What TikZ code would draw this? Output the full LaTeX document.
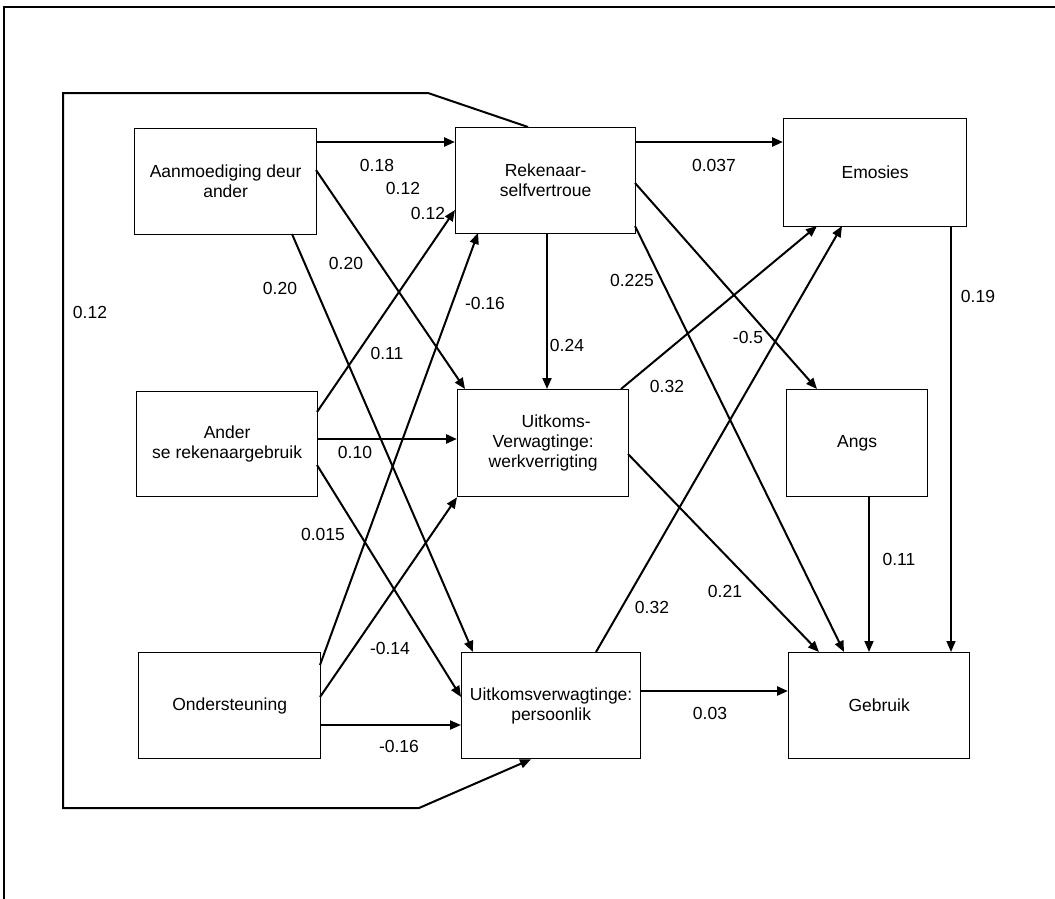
\documentclass[tikz,border=0pt]{standalone}
\usepackage{fontspec}
\setmainfont{Liberation Sans}
\usetikzlibrary{arrows.meta,calc}
\begin{document}
\begin{tikzpicture}[x=1pt,y=-1pt,
  box/.style 2 args={draw,line width=1.3pt,minimum width=#1,minimum height=#2,
    inner sep=0pt,align=center,anchor=north west,font=\fontsize{17.5}{20}\selectfont},
  conn/.style={draw,line width=2pt,-{Triangle[length=11pt,width=9pt]}},
  bold/.style={conn,line width=2.6pt},
  lab/.style={inner sep=0pt,font=\fontsize{17.5}{20}\selectfont}]
\useasboundingbox (0,0) rectangle (1055,899);
\fill[white] (0,0) rectangle (1055,899);

% page frame
\draw[line width=1.4pt] (4,899) -- (4,7) -- (1055,7);

% variables
\node[box={182pt}{106pt}] (aanm)  at (134,128) {Aanmoediging deur\\ander};
\node[box={180pt}{106pt}] (rek)   at (455,127) {Rekenaar-\\selfvertroue};
\node[box={183pt}{108pt}] (emos)  at (783,118) {Emosies};
\node[box={181pt}{105pt}] (ander) at (136,391) {Ander\\se rekenaargebruik};
\node[box={171pt}{107pt}] (uw)    at (457,389) {\hspace*{26pt}Uitkoms-\\Verwagtinge:\\werkverrigting};
\node[box={141pt}{107pt}] (angs)  at (786,389) {Angs};
\node[box={182pt}{106pt}] (ond)   at (138,652) {Ondersteuning};
\node[box={179pt}{106pt}] (up)    at (461,652) {Uitkomsverwagtinge:\\persoonlik};
\node[box={181pt}{106pt}] (geb)   at (788,652) {Gebruik};

% paths
\draw[bold] ($(aanm.north west)+(182,14)$) -- ($(rek.north west)+(0,15)$);
\draw[bold] ($(rek.north west)+(180,15)$) -- ($(emos.north west)+(0,24)$);
\draw[conn] ($(aanm.north west)+(182,42)$) -- ($(uw.north west)+(8,0)$);
\draw[conn] ($(aanm.north west)+(158,106)$) -- ($(up.north west)+(12,0)$);
\draw[conn] ($(ander.north west)+(181,21)$) -- ($(rek.north west)+(0,83)$);
\draw[bold] ($(ander.north west)+(181,48)$) -- ($(uw.north west)+(0,50)$);
\draw[conn] ($(ander.north west)+(181,74)$) -- ($(up.north west)+(0,45)$);
\draw[conn] ($(ond.north west)+(182,13)$) -- ($(rek.north west)+(23,106)$);
\draw[conn] ($(ond.north west)+(182,45)$) -- (uw.south west);
\draw[conn] ($(ond.north west)+(182,73)$) -- ($(up.north west)+(0,73)$);
\draw[conn] ($(rek.north west)+(92,106)$) -- ($(uw.north west)+(90,0)$);
\draw[conn] ($(rek.north west)+(180,56)$) -- ($(angs.north west)+(31,0)$);
\draw[conn] ($(rek.north west)+(180,99)$) -- ($(geb.north west)+(56,0)$);
\draw[conn] ($(uw.north west)+(164,0)$) -- ($(emos.north west)+(34,108)$);
\draw[conn] ($(up.north west)+(135,0)$) -- ($(emos.north west)+(59,108)$);
\draw[conn] ($(uw.north west)+(171,65)$) -- ($(geb.north west)+(31,0)$);
\draw[conn,line width=1.6pt] ($(angs.north west)+(83,107)$) -- ($(geb.north west)+(81,0)$);
\draw[conn,line width=1.6pt] ($(emos.north west)+(168,108)$) -- ($(geb.north west)+(163,0)$);
\draw[bold] ($(up.north west)+(179,39)$) -- ($(geb.north west)+(0,39)$);

% loop from Rekenaar-selfvertroue round to Uitkomsverwagtinge: persoonlik
\coordinate (l1) at (428,93);
\coordinate (l2) at (63,93);
\coordinate (l3) at (63,808);
\coordinate (l4) at (419,808);
\draw[conn] ($(rek.north west)+(73,0)$) -- (l1) -- (l2) -- (l3) -- (l4) -- ($(up.south west)+(70,0)$);

% coefficients
\node[lab] (c1)  at (377,165) {0.18};
\node[lab] (c2)  at (403,188) {0.12};
\node[lab] (c3)  at (428,213) {0.12};
\node[lab] (c4)  at (346,263) {0.20};
\node[lab] (c5)  at (280,288) {0.20};
\node[lab] (c6)  at (90,312)  {0.12};
\node[lab] (c7)  at (387,353) {0.11};
\node[lab] (c8)  at (485,303) {-0.16};
\node[lab] (c9)  at (714,165) {0.037};
\node[lab] (c10) at (567,345) {0.24};
\node[lab] (c11) at (632,280) {0.225};
\node[lab] (c12) at (748,337) {-0.5};
\node[lab] (c13) at (667,386) {0.32};
\node[lab] (c14) at (978,296) {0.19};
\node[lab] (c15) at (355,452) {0.10};
\node[lab] (c16) at (323,534) {0.015};
\node[lab] (c17) at (390,648) {-0.14};
\node[lab] (c18) at (899,559) {0.11};
\node[lab] (c19) at (725,591) {0.21};
\node[lab] (c20) at (652,607) {0.32};
\node[lab] (c21) at (710,713) {0.03};
\node[lab] (c22) at (399,746) {-0.16};
\end{tikzpicture}
\end{document}
